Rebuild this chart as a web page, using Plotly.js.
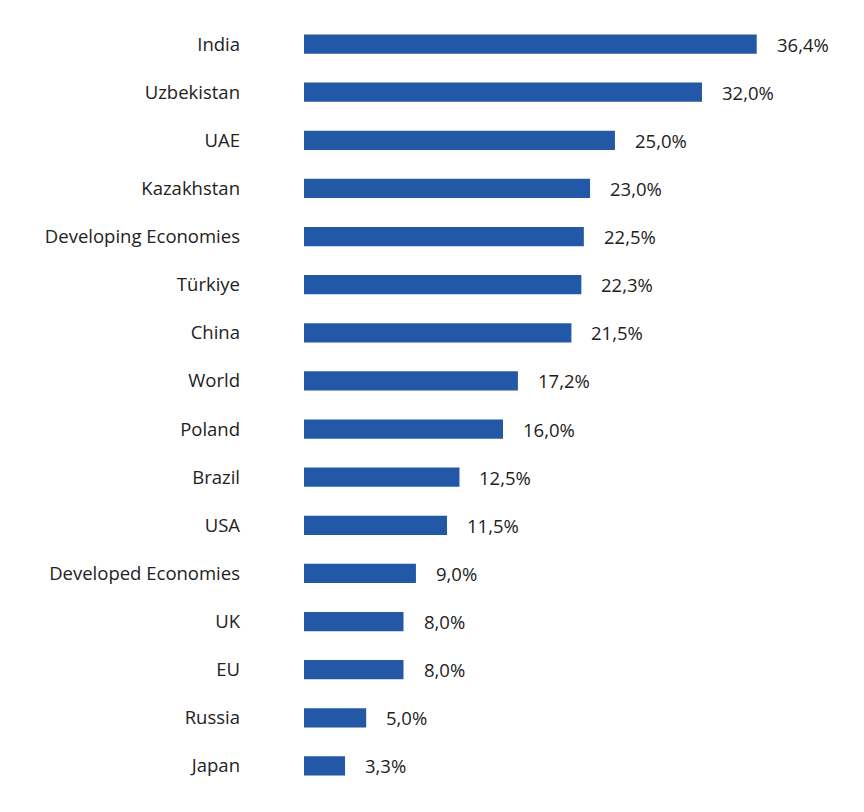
<!DOCTYPE html>
<html>
<head>
<meta charset="utf-8">
<script src="https://cdn.plot.ly/plotly-3.0.1.min.js"></script>
<style>
  html, body { margin: 0; padding: 0; background: #fff; }
  #chart { width: 864px; height: 812px; }
</style>
</head>
<body>
<div id="chart"></div>
<script>
const countries = [
  'India', 'Uzbekistan', 'UAE', 'Kazakhstan', 'Developing Economies', 'Türkiye',
  'China', 'World', 'Poland', 'Brazil', 'USA', 'Developed Economies',
  'UK', 'EU', 'Russia', 'Japan'
];
const shares = [36.4, 32.0, 25.0, 23.0, 22.5, 22.3, 21.5, 17.2, 16.0, 12.5, 11.5, 9.0, 8.0, 8.0, 5.0, 3.3];

const BAR_COLOR = '#2358a6';
const TEXT_COLOR = '#222222';
const FONT = '"Open Sans", "Noto Sans", sans-serif';

// comma decimal, as in the source
const fmt = v => v.toFixed(1).replace('.', ',') + '%';

const bars = {
  type: 'bar',
  orientation: 'h',
  x: shares,
  y: countries,
  marker: { color: BAR_COLOR },
  hoverinfo: 'skip',
  showlegend: false
};

const labels = countries.map((c, i) => ({
  x: shares[i],
  y: c,
  xref: 'x',
  yref: 'y',
  text: fmt(shares[i]),
  showarrow: false,
  xanchor: 'left',
  xshift: 18,
  font: { family: FONT, size: 18.5, color: TEXT_COLOR }
}));

const layout = {
  width: 864,
  height: 812,
  margin: { l: 304, r: 14, t: 20, b: 22 },
  paper_bgcolor: '#ffffff',
  plot_bgcolor: '#ffffff',
  font: { family: FONT, size: 18.5, color: TEXT_COLOR },
  bargap: 0.6,
  showlegend: false,
  xaxis: {
    range: [0, 43.9],
    showgrid: false,
    zeroline: false,
    showticklabels: false,
    showline: false,
    fixedrange: true
  },
  yaxis: {
    type: 'category',
    autorange: 'reversed',
    showgrid: false,
    zeroline: false,
    showline: false,
    ticks: '',
    ticklabelstandoff: 63,
    tickfont: { family: FONT, size: 18.5, color: TEXT_COLOR },
    fixedrange: true
  },
  annotations: labels
};

Plotly.newPlot('chart', [bars], layout, { displayModeBar: false, staticPlot: true });
</script>
</body>
</html>
